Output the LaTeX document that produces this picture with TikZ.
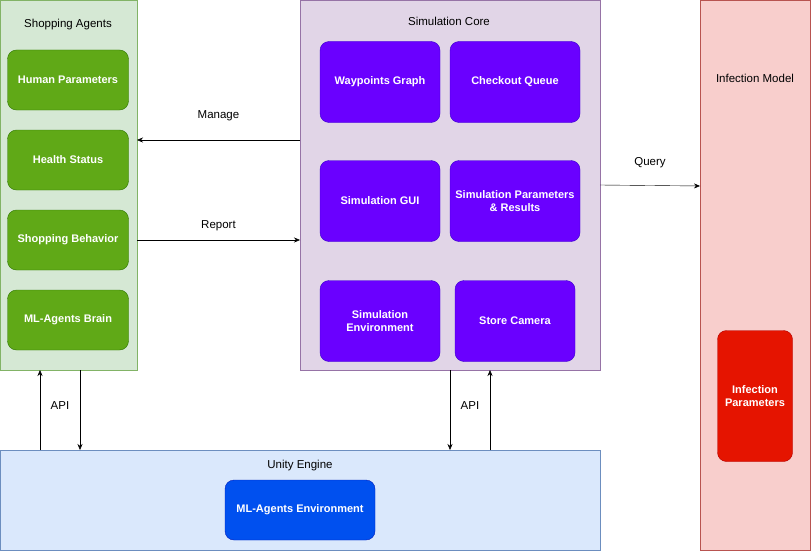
\documentclass[tikz,border=0pt]{standalone}
\usepackage{fontspec}
\setmainfont{Liberation Sans}
\usetikzlibrary{positioning, arrows.meta}
\definecolor{agentfill}{HTML}{D5E8D4}
\definecolor{agentline}{HTML}{82B366}
\definecolor{greenfill}{HTML}{60A917}
\definecolor{greenline}{HTML}{2D7600}
\definecolor{corefill}{HTML}{E1D5E7}
\definecolor{coreline}{HTML}{9673A6}
\definecolor{purplefill}{HTML}{6A00FF}
\definecolor{purpleline}{HTML}{3700CC}
\definecolor{infefill}{HTML}{F8CECC}
\definecolor{infeline}{HTML}{B85450}
\definecolor{redfill}{HTML}{E51400}
\definecolor{redline}{HTML}{B20000}
\definecolor{unityfill}{HTML}{DAE8FC}
\definecolor{unityline}{HTML}{6C8EBF}
\definecolor{bluefill}{HTML}{0050EF}
\definecolor{blueline}{HTML}{001DBC}
\tikzset{
  group/.style={draw, anchor=north west, inner sep=0pt},
  part/.style={draw, rounded corners=9pt, text=white, align=center,
    font=\fontsize{11}{13}\selectfont\bfseries, inner sep=1pt},
  title/.style={font=\fontsize{11.5}{13}\selectfont},
  flow/.style={-{Stealth[length=6pt,width=5pt]}, thin},
}
\begin{document}
\begin{tikzpicture}[x=1pt, y=-1pt]
  \useasboundingbox (0,0) rectangle (811,551);
  % containers
  \node[group, fill=agentfill, draw=agentline, minimum width=137pt, minimum height=370pt] (SA) at (0,0) {};
  \node[group, fill=corefill, draw=coreline, minimum width=300pt, minimum height=370pt] (SC) at (300,0) {};
  \node[group, fill=infefill, draw=infeline, minimum width=110pt, minimum height=550pt] (IM) at (700,0) {};
  \node[group, fill=unityfill, draw=unityline, minimum width=600pt, minimum height=100pt] (UE) at (0,450) {};
  \node[title] at (68,25) {Shopping Agents};
  \node[title] at (449,21) {Simulation Core};
  \node[title] at (755,78) {Infection Model};
  \node[title] at (300,466) {Unity Engine};
  % shopping agents
  \foreach \name/\y/\txt in {HP/80/Human Parameters, HS/160/Health Status,
      SB/240/Shopping Behavior, MB/320/ML-Agents Brain}
    \node[part, fill=greenfill, draw=greenline, minimum width=121pt, minimum height=60pt] (\name) at (68,\y) {\txt};
  % simulation core
  \node[part, fill=purplefill, draw=purpleline, minimum width=120pt, minimum height=81pt] (WG) at (380,82) {Waypoints Graph};
  \node[part, fill=purplefill, draw=purpleline, minimum width=130pt, minimum height=81pt] (CQ) at (515,82) {Checkout Queue};
  \node[part, fill=purplefill, draw=purpleline, minimum width=120pt, minimum height=81pt] (GUI) at (380,201) {Simulation GUI};
  \node[part, fill=purplefill, draw=purpleline, minimum width=130pt, minimum height=81pt] (SP) at (515,201) {Simulation Parameters\\\& Results};
  \node[part, fill=purplefill, draw=purpleline, minimum width=120pt, minimum height=81pt] (SE) at (380,321) {Simulation\\Environment};
  \node[part, fill=purplefill, draw=purpleline, minimum width=120pt, minimum height=81pt] (CAM) at (515,321) {Store Camera};
  % infection and unity
  \node[part, fill=redfill, draw=redline, minimum width=75pt, minimum height=131pt] (IP) at (755,396) {Infection\\Parameters};
  \node[part, fill=bluefill, draw=blueline, minimum width=150pt, minimum height=60pt] (MLE) at (300,510) {ML-Agents Environment};
  % connector ends
  \coordinate (m1) at (300,140); \coordinate (m2) at (137,140);
  \coordinate (r1) at (137,240); \coordinate (r2) at (300,240);
  \coordinate (q1) at (600,185); \coordinate (q2) at (700,186);
  \coordinate (a1) at (40,450);  \coordinate (a2) at (40,370);
  \coordinate (a3) at (80,370);  \coordinate (a4) at (80,450);
  \coordinate (b1) at (450,370); \coordinate (b2) at (450,450);
  \coordinate (b3) at (490,450); \coordinate (b4) at (490,370);
  % connectors
  \draw[flow] (m1) -- (m2) node[midway, above=16pt, title] {Manage};
  \draw[flow] (r1) -- (r2) node[midway, above=6pt, title] {Report};
  \draw[flow] (q1) -- (q2) node[midway, above=14pt, title] {Query};
  \draw[flow] (a1) -- (a2);
  \draw[flow] (a3) -- (a4);
  \node[title] at (60,406) {API};
  \draw[flow] (b1) -- (b2);
  \draw[flow] (b3) -- (b4);
  \node[title] at (470,406) {API};
\end{tikzpicture}
\end{document}
